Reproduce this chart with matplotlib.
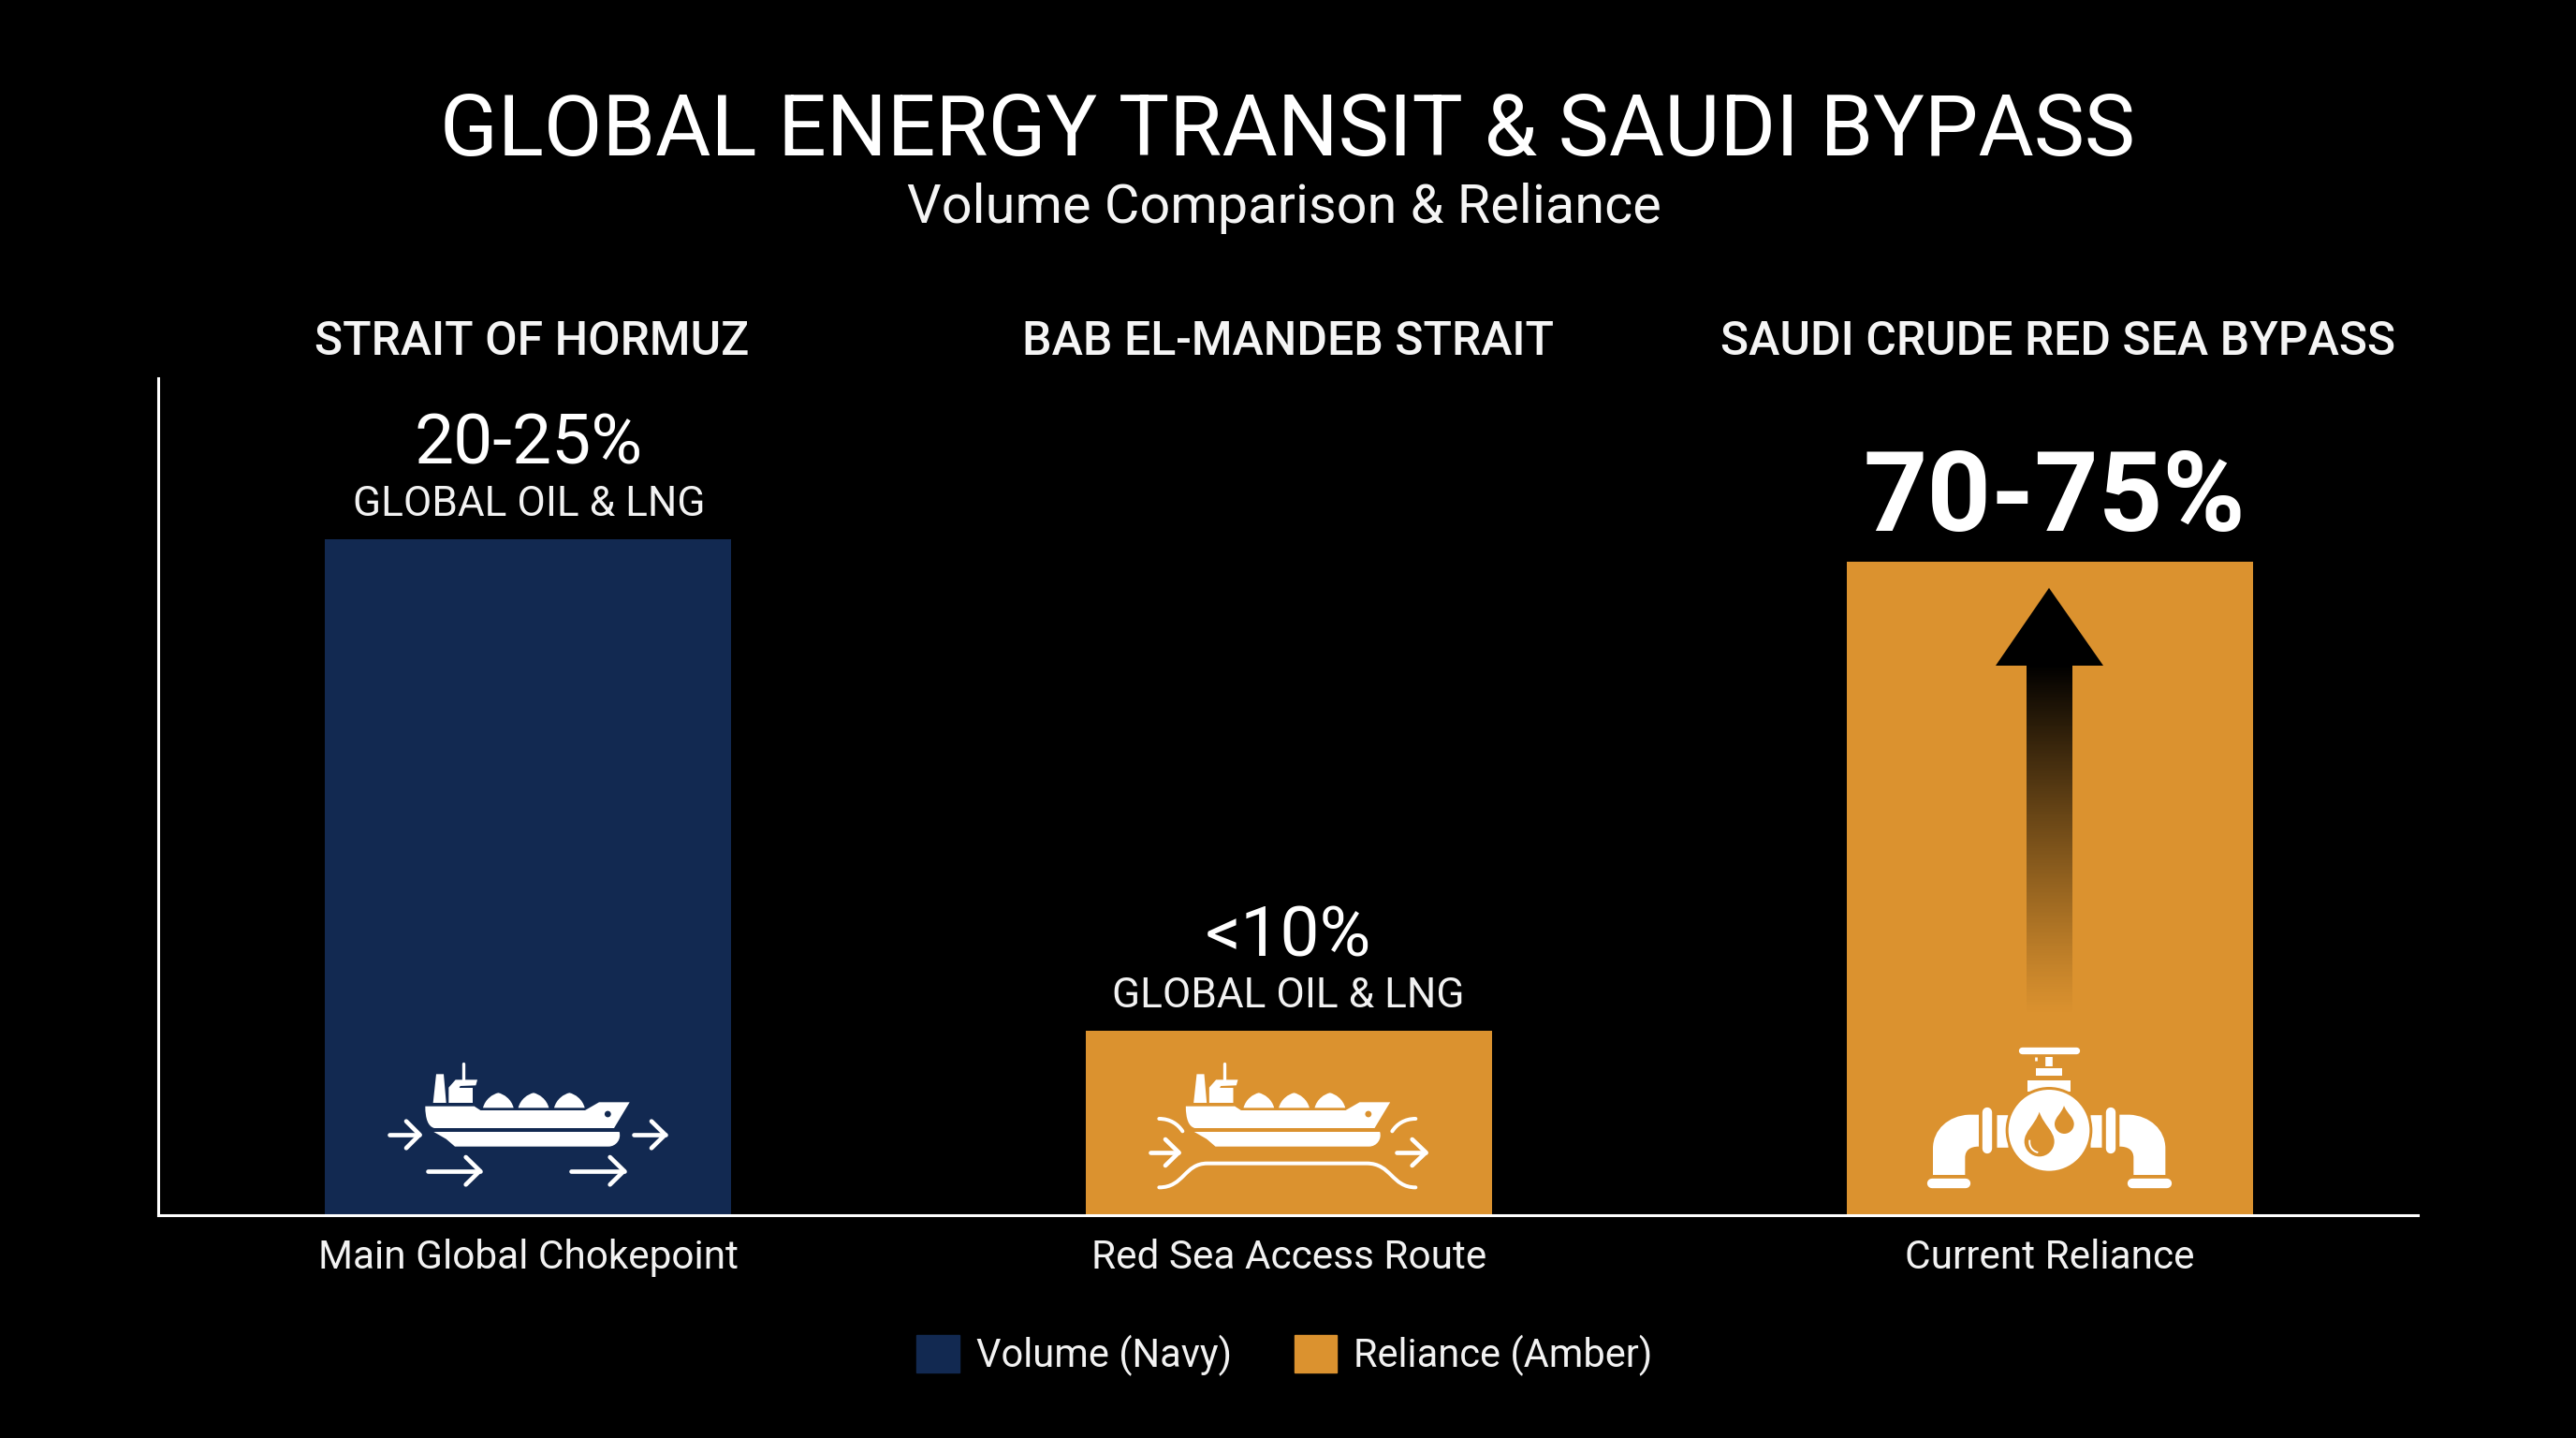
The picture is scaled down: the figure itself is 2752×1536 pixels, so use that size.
import numpy as np
import matplotlib
matplotlib.use('Agg')
import matplotlib.pyplot as plt
from matplotlib.path import Path
from matplotlib.patches import PathPatch, Circle, Polygon, Patch

W, H = 2752, 1536
NAVY = '#122951'
AMBER = '#DB922F'

categories = ['Main Global Chokepoint', 'Red Sea Access Route', 'Current Reliance']
headers = ['STRAIT OF HORMUZ', 'BAB EL-MANDEB STRAIT', 'SAUDI CRUDE RED SEA BYPASS']
bar_heights = [74.9, 20.4, 72.5]
bar_colors = [NAVY, AMBER, AMBER]
value_labels = ['20-25%', '<10%', '70-75%']
sub_labels = ['GLOBAL OIL & LNG', 'GLOBAL OIL & LNG', '']
legend_labels = ['Volume (Navy)', 'Reliance (Amber)']

plt.rcParams['font.family'] = ['Roboto', 'DejaVu Sans']
fig = plt.figure(figsize=(W / 100, H / 100), dpi=100, facecolor='black')

# chart axes, placed by pixels
left, right, top, bottom = 169, 2583, 404, 1298
ax = fig.add_axes([left / W, 1 - bottom / H, (right - left) / W, (bottom - top) / H])
ax.set_facecolor('black')
ax.bar(range(3), bar_heights, width=0.534, color=bar_colors, linewidth=0)
ax.set_xlim(-0.4866, 2.484)
ax.set_ylim(0, 92.8)
ax.set_yticks([])
ax.set_xticks(range(3))
ax.set_xticklabels(categories, fontsize=30.5, color='#f2f2f2')
ax.tick_params(axis='x', length=0, pad=18)
for s in ['top', 'right']:
    ax.spines[s].set_visible(False)
for s in ['left', 'bottom']:
    ax.spines[s].set_color('white')
    ax.spines[s].set_linewidth(2.2)

ax.legend(handles=[Patch(color=NAVY), Patch(color=AMBER)], labels=legend_labels,
          loc='upper center', bbox_to_anchor=(0.4985, -0.1016), ncol=2, frameon=False,
          fontsize=30, labelcolor='#f2f2f2', handlelength=1.1, handleheight=1.1,
          handletextpad=0.42, columnspacing=1.6)

# overlay in image pixels for the titles and the icons
ov = fig.add_axes([0, 0, 1, 1], facecolor='none')
ov.axis('off')


def stroke(pts, w, ox, oy, color='white', cap='round'):
    pts = np.array(pts, dtype=float)
    ov.plot(ox + pts[:, 0] / 3, oy + pts[:, 1] / 3, color=color, lw=w * 0.72 / 3,
            solid_capstyle=cap, solid_joinstyle='round')


def shape(verts, codes, ox, oy, color='white', fill=True, w=0):
    verts = np.array(verts, dtype=float)
    verts = np.column_stack([ox + verts[:, 0] / 3, oy + verts[:, 1] / 3])
    ov.add_patch(PathPatch(Path(verts, codes), facecolor=color if fill else 'none',
                           edgecolor=color if not fill else 'none',
                           lw=w * 0.72 / 3, capstyle='round'))


M, L, C = Path.MOVETO, Path.LINETO, Path.CURVE4


def arrow(x0, x1, y, hw, hh, ox, oy):
    stroke([(x0, y), (x1, y)], 14, ox, oy)
    stroke([(x1 - hw, y - hh), (x1, y), (x1 - hw, y + hh)], 14, ox, oy)


def ship(ox, oy, bg):
    # upper hull
    shape([(343, 245), (500, 245), (520, 258), (855, 258), (900, 232), (998, 232), (948, 315), (372, 315),
           (352, 310), (343, 285), (343, 245)],
          [M, L, L, L, L, L, L, L, C, C, C], ox, oy)
    # lower hull
    shape([(370, 327), (965, 327), (972, 350), (955, 374), (930, 374), (438, 374), (410, 350), (370, 327)],
          [M, L, C, C, C, L, L, L], ox, oy)
    ov.add_patch(Polygon([(ox + x / 3, oy + y / 3) for x, y in
                          [(378, 142), (402, 142), (410, 234), (368, 234)]], color='white', lw=0))
    ov.add_patch(Polygon([(ox + x / 3, oy + y / 3) for x, y in
                          [(418, 234), (418, 185), (440, 160), (510, 160), (505, 178), (455, 180), (452, 186),
                           (495, 186), (495, 234)]], color='white', lw=0))
    stroke([(466, 108), (466, 160)], 10, ox, oy)
    for cx in [577, 690, 805]:
        shape([(cx - 49, 250), (cx - 42, 222), (cx - 18, 206), (cx, 202), (cx + 18, 206), (cx + 42, 222),
               (cx + 49, 250), (cx - 49, 250)], [M, C, C, C, C, C, C, L], ox, oy)
    ov.add_patch(Circle((ox + 928 / 3, oy + 270 / 3), 3.4, color=bg, lw=0))


# ship over the navy bar, with flow arrows
ship(340, 1100, NAVY)
arrow(228, 325, 336, 43, 43, 340, 1100)
arrow(1012, 1112, 336, 44, 43, 340, 1100)
arrow(350, 518, 452, 45, 44, 340, 1100)
arrow(810, 980, 452, 45, 44, 340, 1100)

# same ship in the narrow channel
ship(1152.5, 1100, AMBER)
ox2, oy2 = 1150, 1090
arrow(236, 328, 423, 43, 42, ox2, oy2)
arrow(1026, 1120, 423, 44, 42, ox2, oy2)
shape([(265, 315), (300, 315), (325, 332), (340, 355)], [M, C, C, C], ox2, oy2, fill=False, w=12)
shape([(1087, 315), (1052, 315), (1027, 332), (1012, 355)], [M, C, C, C], ox2, oy2, fill=False, w=12)
shape([(265, 535), (345, 535), (345, 458), (420, 458), (930, 458), (1010, 458), (1010, 535), (1087, 535)],
      [M, C, C, C, L, C, C, C], ox2, oy2, fill=False, w=12)

# pipe and valve
ox3, oy3 = 1970, 1080
stroke([(571, 127), (744, 127)], 22, ox3, oy3)
stroke([(616, 146), (616, 160)], 8, ox3, oy3, cap='butt')
stroke([(656, 146), (656, 178)], 23, ox3, oy3, cap='butt')
stroke([(615, 196), (698, 196)], 24, ox3, oy3, cap='butt')
stroke([(588, 240), (725, 240)], 36, ox3, oy3, cap='butt')
for x in [460, 854]:
    stroke([(x, 325), (x, 441)], 31, ox3, oy3)
for x0, x1 in [(488, 525), (790, 826)]:
    stroke([(x0, 384), (x1, 384)], 104, ox3, oy3, cap='butt')
ov.add_patch(Circle((ox3 + 657 / 3, oy3 + 382 / 3), 139 / 3, color=AMBER, lw=0, zorder=2))
ov.add_patch(Circle((ox3 + 657 / 3, oy3 + 382 / 3), 130 / 3, color='white', lw=0, zorder=2))
shape([(432, 332), (400, 332), (335, 335), (285, 380), (285, 440), (285, 525), (388, 525), (388, 470),
       (388, 445), (405, 434), (432, 434), (432, 332)],
      [M, L, C, C, C, L, L, L, C, C, C, L], ox3, oy3)
shape([(883, 332), (915, 332), (980, 335), (1030, 380), (1030, 440), (1030, 525), (928, 525), (928, 470),
       (928, 445), (910, 434), (883, 434), (883, 332)],
      [M, L, C, C, C, L, L, L, C, C, C, L], ox3, oy3)
stroke([(281, 552), (391, 552)], 31, ox3, oy3)
stroke([(925, 552), (1035, 552)], 31, ox3, oy3)


def drop(tip, cx, cy, r):
    k = r * 0.55
    v = [tip, (cx - r * 0.3, tip[1] + 0.45 * (cy - tip[1])), (cx - r, cy - r * 0.7), (cx - r, cy),
         (cx - r, cy + k), (cx - k, cy + r), (cx, cy + r),
         (cx + k, cy + r), (cx + r, cy + k), (cx + r, cy),
         (cx + r, cy - r * 0.7), (cx + r * 0.3, tip[1] + 0.45 * (cy - tip[1])), tip]
    verts = np.array(v, dtype=float)
    verts = np.column_stack([ox3 + verts[:, 0] / 3, oy3 + verts[:, 1] / 3])
    ov.add_patch(PathPatch(Path(verts, [M] + [C] * 12), facecolor=AMBER, edgecolor='none', zorder=2.5))


drop((626, 323), 626, 418, 48)
drop((705, 303), 706, 362, 31)
ov.add_patch(PathPatch(Path(np.column_stack([ox3 + np.array([595, 592, 605, 622]) / 3,
                                             oy3 + np.array([413, 435, 450, 453]) / 3]), [M, C, C, C]),
                       facecolor='none', edgecolor='white', lw=1.4, zorder=2.6))

# black arrow fading downwards
grad = np.zeros((256, 2, 4))
grad[:, :, 3] = (np.linspace(1, 0, 256) ** 1.15)[:, None]
ov.imshow(grad, extent=(2165, 2214, 1085, 711), aspect='auto', interpolation='bilinear', zorder=3)
ov.add_patch(Polygon([(2189, 628), (2247, 711), (2132, 711)], color='black', lw=0, zorder=3))

# text, placed on baselines
ov.text(1375, 166, 'GLOBAL ENERGY TRANSIT & SAUDI BYPASS', color='white', fontsize=65.5, ha='center', va='baseline')
ov.text(1372, 238, 'Volume Comparison & Reliance', color='#f5f5f5', fontsize=41.5, ha='center', va='baseline')
header_x = [568, 1376, 2199]
for x, t in zip(header_x, headers):
    ov.text(x, 379, t, color='#f5f5f5', fontsize=36, ha='center', va='baseline', fontweight='medium')
ov.text(565, 496, value_labels[0], color='white', fontsize=54, ha='center', va='baseline')
ov.text(565, 551, sub_labels[0], color='#f2f2f2', fontsize=31.8, ha='center', va='baseline')
ov.text(1376, 1021, value_labels[1], color='white', fontsize=54, ha='center', va='baseline')
ov.text(1376, 1076, sub_labels[1], color='#f2f2f2', fontsize=31.8, ha='center', va='baseline')
ov.text(2195, 567, value_labels[2], color='white', fontsize=86, ha='center', va='baseline', fontweight='bold')

ov.set_xlim(0, W)
ov.set_ylim(H, 0)

fig.savefig('out.png', dpi=100, facecolor='black')
